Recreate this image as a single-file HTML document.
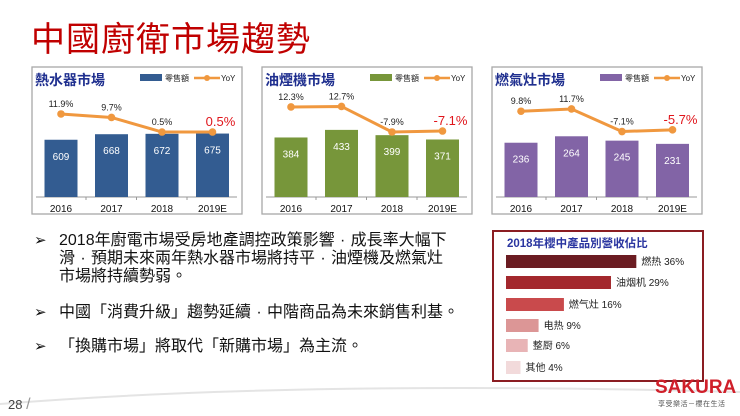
<!DOCTYPE html>
<html><head><meta charset="utf-8">
<style>
body{margin:0;width:740px;height:416px;overflow:hidden;background:#fff;font-family:"Liberation Sans","Noto Sans CJK TC",sans-serif;position:relative}
.abs{position:absolute}
.title{left:31px;top:20px;font-size:34px;color:#c00000;letter-spacing:1px;line-height:40px;font-family:"Liberation Sans","Noto Sans CJK TC",sans-serif}
.bul{left:34px;font-size:16px;line-height:18px;color:#111;width:460px;white-space:nowrap}
.bul span.a{position:absolute;left:0;top:0;font-size:15px}
.bul div{margin-left:25px}
.p{display:inline-block;width:1em;text-align:center}
</style></head><body>
<div class="abs title">中國廚衛市場趨勢</div>
<svg class="abs" style="left:0;top:0" width="740" height="416" id="svg"></svg>
<div class="abs bul" style="top:232px"><span class="a">➢</span><div>2018年廚電市場受房地產調控政策影響<span class="p">·</span>成長率大幅下<br>滑<span class="p">·</span>預期未來兩年熱水器市場將持平<span class="p">·</span>油煙機及燃氣灶<br>市場將持續勢弱。</div></div>
<div class="abs bul" style="top:304px"><span class="a">➢</span><div>中國「消費升級」趨勢延續<span class="p">·</span>中階商品為未來銷售利基。</div></div>
<div class="abs bul" style="top:338px"><span class="a">➢</span><div>「換購市場」將取代「新購市場」為主流。</div></div>
<div class="abs" style="left:8px;top:396px;font-size:13px;color:#444">28 <span style="color:#999;font-size:16px">/</span></div>
<div class="abs" style="left:655px;top:377px;font-size:19px;font-weight:bold;color:#d01f2a">SAKURA</div>
<div class="abs" style="left:658px;top:399px;font-size:7px;color:#555;letter-spacing:0.5px">享受樂活－櫻在生活</div>
<script>
const years=["2016","2017","2018","2019E"];
const heaterSales=[609,668,672,675];
const heaterYoY=[11.9,9.7,0.5,0.5];
const hoodSales=[384,433,399,371];
const hoodYoY=[12.3,12.7,-7.9,-7.1];
const stoveSales=[236,264,245,231];
const stoveYoY=[9.8,11.7,-7.1,-5.7];
const shareLabels=["燃热 36%","油烟机 29%","燃气灶 16%","电热 9%","整厨 6%","其他 4%"];
const shareValues=[36,29,16,9,6,4];
const NS="http://www.w3.org/2000/svg";
const svg=document.getElementById('svg');
function mk(t,a,p){const e=document.createElementNS(NS,t);for(const k in a)e.setAttribute(k,a[k]);(p||svg).appendChild(e);return e;}
function panel(x0,title,color,sales,yoy,bs,yb,ys,name){
  const g=mk('g',{});
  
  
  mk('rect',{x:x0,y:67,width:210,height:147,fill:'#fff',stroke:'#a8a8a8','stroke-width':1.3},g);
  const t=mk('text',{x:x0+3,y:85,'font-size':14,'font-weight':'bold',fill:'#1f2f8f'},g);t.textContent=title;
  mk('rect',{x:x0+108,y:74,width:22,height:7,fill:color},g);
  const l=mk('text',{x:x0+133,y:81,'font-size':8,fill:'#222'},g);l.textContent='零售額';
  mk('line',{x1:x0+162,y1:78,x2:x0+188,y2:78,stroke:'#f0983f','stroke-width':2.5},g);
  mk('circle',{cx:x0+175,cy:78,r:3,fill:'#f0983f'},g);
  const l2=mk('text',{x:x0+189,y:81,'font-size':8,fill:'#222'},g);l2.textContent='YoY';
  const base=197;
  mk('line',{x1:x0+4,y1:base,x2:x0+205,y2:base,stroke:'#999','stroke-width':1},g);
  const pts=[];
  years.forEach((yr,i)=>{
    const cx=x0+29+i*50.5;
    const h=sales[i]*bs;
    const r=mk('rect',{x:cx-16.5,y:base-h,width:33,height:h,fill:color},g);
    
    
    const v=mk('text',{x:cx,y:base-h+20,'font-size':10,fill:'#fff','text-anchor':'middle'},g);v.textContent=sales[i];
    const yl=mk('text',{x:cx,y:212,'font-size':10,fill:'#111','text-anchor':'middle'},g);yl.textContent=yr;
    if(i<3)mk('line',{x1:cx+25,y1:base,x2:cx+25,y2:base+3,stroke:'#999'},g);
    pts.push([cx,yb-ys*yoy[i]]);
  });
  mk('polyline',{points:pts.map(p=>p.join(',')).join(' '),fill:'none',stroke:'#f0983f','stroke-width':3},g);
  pts.forEach((p,i)=>{
    const c=mk('circle',{cx:p[0],cy:p[1],r:3.8,fill:'#f0983f'},g);
    
    
    const last=i==3;
    const tx=mk('text',{x:p[0]+(last?8:0),y:p[1]-(last?6:7),'font-size':last?13:9,fill:last?'#e0151b':'#222','text-anchor':'middle'},g);
    tx.textContent=yoy[i].toFixed(1)+'%';
  });
}
panel(32,'熱水器市場','#335c91',heaterSales,heaterYoY,0.094,132.8,1.58,'water-heater-chart');
panel(262,'油煙機市場','#77963a',hoodSales,hoodYoY,0.155,122.2,1.24,'range-hood-chart');
panel(492,'燃氣灶市場','#8264a6',stoveSales,stoveYoY,0.23,123,1.2,'gas-stove-chart');
const sg=mk('g',{});


mk('rect',{x:493,y:231,width:210,height:150,fill:'#fff',stroke:'#8b1d22','stroke-width':2},sg);
const st=mk('text',{x:507,y:247,'font-size':11.5,'font-weight':'bold',fill:'#2a35a0'},sg);st.textContent='2018年櫻中產品別營收佔比';
const cols=['#6b1c22','#a3282d','#c94a4c','#dc9696','#e8b4b6','#f2dadb'];
const rowY=[255,276,298,319,339,361];
shareValues.forEach((v,i)=>{
  const w=v*3.62;
  const r=mk('rect',{x:506,y:rowY[i],width:w,height:13,fill:cols[i]},sg);
  
  
  const t=mk('text',{x:506+w+5,y:rowY[i]+10,'font-size':10,fill:'#222'},sg);t.textContent=shareLabels[i];
});
mk('path',{d:'M0 404 Q300 380 740 392',fill:'none',stroke:'#e4e4e4','stroke-width':2});
</script>
</body></html>
